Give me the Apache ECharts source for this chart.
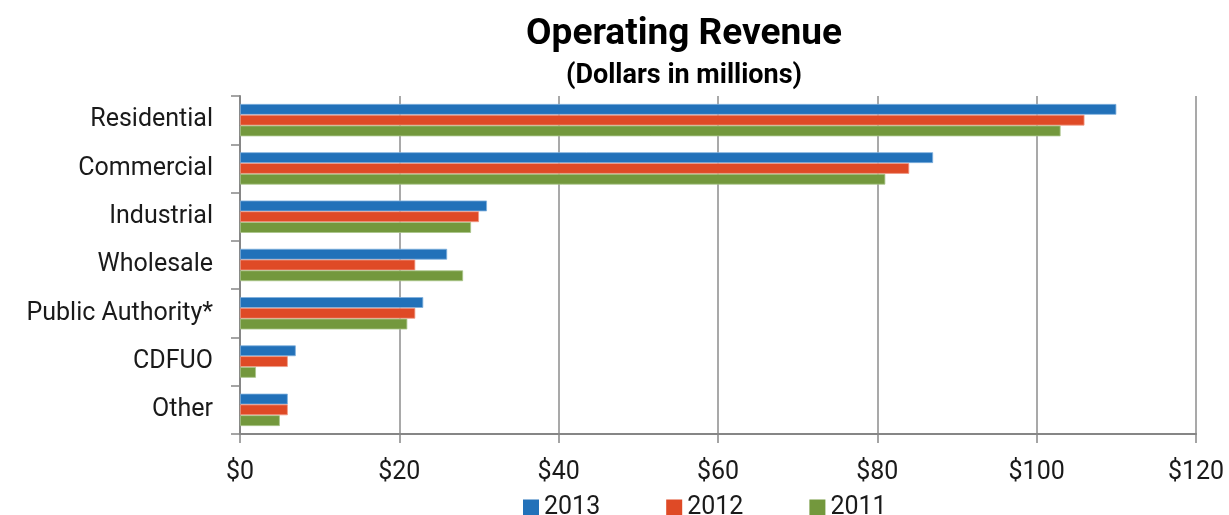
<!DOCTYPE html>
<html>
<head>
<meta charset="utf-8">
<script src="https://cdn.jsdelivr.net/npm/echarts@6/dist/echarts.min.js"></script>
<style>
html, body { margin: 0; padding: 0; background: #fff; }
#revenueChart { width: 1229px; height: 515px; }
</style>
</head>
<body>
<div id="revenueChart"></div>
<script>
// 类别与数据
var categories = ['Residential', 'Commercial', 'Industrial', 'Wholesale', 'Public Authority*', 'CDFUO', 'Other'];
var years = ['2013', '2012', '2011'];
var rev2013 = [110, 87, 31, 26, 23, 7, 6];
var rev2012 = [106, 84, 30, 22, 22, 6, 6];
var rev2011 = [103, 81, 29, 28, 21, 2, 5];
var xTicks = [0, 20, 40, 60, 80, 100, 120];

var revenueChart = echarts.init(document.getElementById('revenueChart'));
var fontName = 'Roboto';
var colors = ['#2271b9', '#df4a26', '#73983d'];
var borders = ['#7fb0dd', '#f09a86', '#aac58a'];

function makeSeries(name, data, i) {
	return {
		name: name,
		type: 'bar',
		data: data,
		barGap: '0%',
		barCategoryGap: '33%',
		itemStyle: {
			color: colors[i],
			borderColor: borders[i],
			borderWidth: 0.8
		}
	};
}

var option = {
	animation: false,
	title: [{
		text: 'Operating Revenue',
		left: 679,
		top: 11,
		textAlign: 'center',
		textStyle: { fontFamily: fontName, fontSize: 37, fontWeight: 'bold', color: '#000' }
	}, {
		text: '(Dollars in millions)',
		left: 679,
		top: 58,
		textAlign: 'center',
		textStyle: { fontFamily: fontName, fontSize: 27, fontWeight: 'bold', color: '#000' }
	}],
	legend: {
		data: years,
		left: 518,
		top: 490,
		itemWidth: 16,
		itemHeight: 16,
		itemGap: 66,
		icon: 'rect',
		itemStyle: { borderWidth: 0 },
		textStyle: { fontFamily: fontName, fontSize: 25, color: '#1a1a1a' }
	},
	grid: {
		left: 240,
		right: 33,
		top: 96,
		bottom: 81
	},
	xAxis: {
		type: 'value',
		min: 0,
		max: 120,
		interval: 20,
		axisLine: { show: true, lineStyle: { color: '#868686', width: 2 } },
		axisTick: { show: true, length: 9, lineStyle: { color: '#868686', width: 1.5 } },
		splitLine: { show: true, lineStyle: { color: '#8c8c8c', width: 1.5 } },
		axisLabel: {
			margin: 26,
			fontFamily: fontName,
			fontSize: 25,
			color: '#1a1a1a',
			formatter: function (v) { return xTicks.indexOf(v) >= 0 ? '$' + v : ''; }
		}
	},
	yAxis: {
		type: 'category',
		inverse: true,
		data: categories,
		axisLine: { show: true, lineStyle: { color: '#868686', width: 2 } },
		axisTick: { show: true, length: 9, lineStyle: { color: '#868686', width: 1.5 } },
		axisLabel: {
			margin: 27,
			fontFamily: fontName,
			fontSize: 25,
			color: '#1a1a1a'
		}
	},
	series: [
		makeSeries('2013', rev2013, 0),
		makeSeries('2012', rev2012, 1),
		makeSeries('2011', rev2011, 2)
	]
};

revenueChart.setOption(option);
</script>
</body>
</html>
